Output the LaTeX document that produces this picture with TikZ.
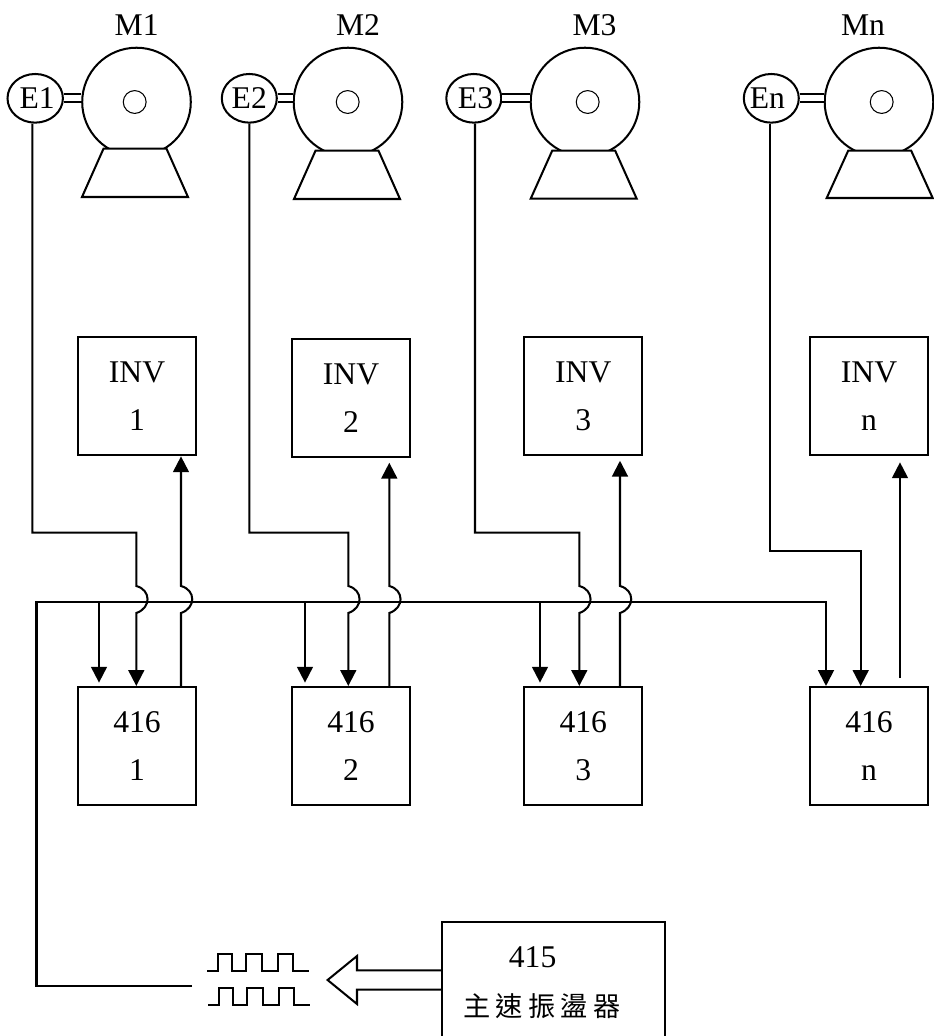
\documentclass[tikz,border=0pt]{standalone}
\usepackage{fontspec}
\setmainfont{Liberation Serif}
\newfontfamily\cjk{Noto Sans CJK TC}
\usetikzlibrary{arrows.meta,shapes.geometric}
\tikzset{
  vonal/.style={line width=1.15pt},
  nyil/.style={vonal,-{Triangle[length=9pt,width=9pt]}},
  blk/.style={draw,vonal,minimum width=67.2pt,minimum height=67.2pt,inner sep=0pt,align=center},
  enc/.style={draw,vonal,ellipse,minimum width=31.3pt,minimum height=27.7pt,inner sep=0pt},
  mot/.style={draw,vonal,circle,minimum size=61.8pt,inner sep=0pt},
  hub/.style={draw,line width=0.6pt,circle,minimum size=13pt,inner sep=0pt},
  cim/.style={inner sep=0pt},
}
\begin{document}
\begin{tikzpicture}[x=0.02cm,y=-0.02cm,font=\fontsize{18}{27.3}\selectfont]
  \useasboundingbox (0,0) rectangle (934,1036);
  \clip (0,0) rectangle (934,1036);
  % motors with encoders
  \foreach \i/\ex/\ek/\mx/\hx/\lx/\bx/\ty/\by in {1/35.2/2.3/136.5/134.7/136.7/82/148.7/197,
      2/249.3/0/348/347.7/358/294/150.7/199,
      3/473.8/2/585/587.7/594.5/530.7/150.7/198.7,
      n/771.3/-4.5/879/881.7/863/826.7/150.7/198}{
    \node[mot] (m\i) at (\mx,102) {};
    \node[hub] (h\i) at (\hx,102) {};
    \node[cim] (c\i) at (\lx,25.5) {M\i};
    \node[enc] (e\i) at (\ex,98.3) {\kern\ek pt E\i};
    \draw[vonal,fill=white] (\bx,\by) -- ({\bx+21.5},\ty) -- ({\bx+84.5},\ty) -- ({\bx+106},\by) -- cycle;
    \draw[vonal,double,double distance=3.4pt] (e\i.east) -- (e\i.east -| m\i.west);
  }
  % inverters and 416 blocks
  \foreach \i/\bx/\iy in {1/137/396.3,2/351/398.3,3/583.3/396.3,n/869/396.3}{
    \node[blk] (inv\i) at (\bx,\iy) {INV\\\i};
    \node[blk] (mod\i) at (\bx,746) {416\\\i};
  }
  % master line
  \coordinate (jel) at (192,985.7);
  \draw[nyil] (jel) -| (36.5,602) -| (826,0 |- modn.north);
  % feedback and drive lines
  \foreach \i/\fx/\dx/\tx/\ux/\gap in {1/32.3/99/136.3/181/0pt,
      2/249.3/305/348.3/389.3/2.5pt,3/475/540/579.3/620/2.5pt}{
    \draw[nyil] (\fx,0 |- e\i.south) |- (\tx,532.7) -- (\tx,586)
      .. controls ({\tx+15},590) and ({\tx+15},608) .. (\tx,613) -- (\tx,0 |- mod\i.north);
    \draw[nyil,shorten >=1.9pt] (\dx,602) -- (\dx,0 |- mod\i.north);
    \draw[nyil,shorten >=\gap] (\ux,0 |- mod\i.north) -- (\ux,613)
      .. controls ({\ux+15},608) and ({\ux+15},590) .. (\ux,586) -- (\ux,0 |- inv\i.south);
  }
  \draw[nyil] (770.3,0 |- en.south) |- (860.7,550.7) -- (860.7,0 |- modn.north);
  \coordinate (vegn) at (900,678);
  \draw[nyil,shorten >=3.4pt] (vegn) -- (vegn |- invn.south);
  % oscillator
  \node[draw,vonal,minimum width=126.9pt,minimum height=80pt,inner sep=0pt] (osc) at (553.5,992) {};
  \node[cim] (t415) at (532.6,957.5) {415};
  \node[cim,font=\cjk\fontsize{15.5}{16}\selectfont] (tosc) at (542,1006) {主\hspace{3pt}速\hspace{3pt}振\hspace{3pt}盪\hspace{3pt}器};
  \draw[vonal] (osc.west |- 0,970.3) -- (357,970.3) -- (357,956) -- (327.6,980) -- (357,1004)
    -- (357,989.7) -- (osc.west |- 0,989.7);
  % pulse trains
  \foreach \px/\py in {207/971,208/1005}{
    \draw[line width=0.9pt] (\px,\py) -- ++(11,0) -- ++(0,-17) -- ++(14,0) -- ++(0,17) -- ++(14,0)
      -- ++(0,-17) -- ++(16,0) -- ++(0,17) -- ++(16,0) -- ++(0,-17) -- ++(15,0) -- ++(0,17) -- ++(16,0);
  }
\end{tikzpicture}
\end{document}
